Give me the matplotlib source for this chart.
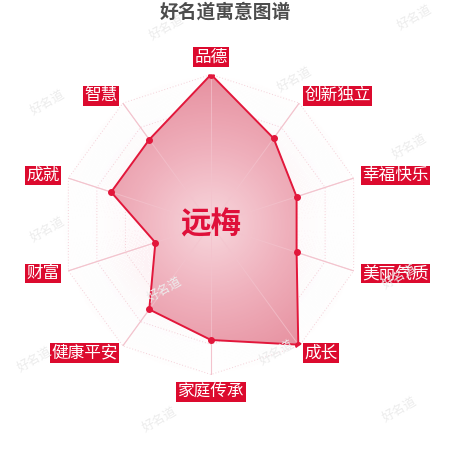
import numpy as np
import matplotlib
matplotlib.use("Agg")
import matplotlib.pyplot as plt
from matplotlib.colors import LinearSegmentedColormap

plt.rcParams['font.family'] = ['Noto Sans CJK SC', 'DejaVu Sans']

# data
title = "好名道寓意图谱"
name = "远梅"
categories = ["品德", "创新独立", "幸福快乐", "美丽气质", "成长",
              "家庭传承", "健康平安", "财富", "成就", "智慧"]
values = [100, 71, 60, 60, 99, 77, 70, 39, 70, 70]
levels = [20, 40, 60, 80, 100]

RED = "#dc0a2e"
LINE = "#e2173b"

n = len(categories)
theta = np.arange(n) * 2 * np.pi / n
theta_c = np.append(theta, theta[0])
vals_c = np.append(values, values[0])

fig = plt.figure(figsize=(4.5, 4.5), dpi=100)
fig.patch.set_facecolor("white")

# faint watermarks
marks = [(167, 28), (415, 18), (48, 103), (295, 80), (410, 147), (48, 230),
         (400, 277), (35, 360), (277, 353), (160, 420), (400, 410), (165, 290)]
for x, y in marks:
    fig.text(x / 450, 1 - y / 450, "好名道", fontsize=9, color="#ececec",
             rotation=30, ha="center", va="center", zorder=0)

cx, cy, R = 211, 224.5, 150
ax = fig.add_axes([(cx - R) / 450, (450 - cy - R) / 450, 2 * R / 450, 2 * R / 450],
                  projection="polar")
ax.set_theta_zero_location("N")
ax.set_theta_direction(-1)
ax.set_ylim(0, 100)
ax.set_xticks([])
ax.set_yticks([])
ax.grid(False)
ax.spines["polar"].set_visible(False)
ax.patch.set_alpha(0)

# faint background glow
tg = np.linspace(0, 2 * np.pi, 361)
rg = np.linspace(0, 100, 101)
T, Rg = np.meshgrid(tg, rg)
bg_cmap = LinearSegmentedColormap.from_list(
    "bg", [(0.96, 0.75, 0.80, 0.08), (0.96, 0.75, 0.80, 0.10), (1, 1, 1, 0.0)])
ax.pcolormesh(T, Rg, Rg, cmap=bg_cmap, shading="auto", zorder=0.5)

# grid rings and spokes
for lv in levels:
    ax.plot(theta_c, [lv] * (n + 1), ls=(0, (1, 2)), color="#f5d0d8", lw=0.7, zorder=1)
for t in theta:
    ax.plot([t, t], [0, 100], color="#f4c6d0", lw=0.8, zorder=1)

# data polygon with radial gradient
poly = ax.fill(theta_c, vals_c, facecolor="none", edgecolor="none", zorder=2)[0]
fill_cmap = LinearSegmentedColormap.from_list("fill", ["#f7d6dc", "#efb0bc", "#e6909f"])
mesh = ax.pcolormesh(T, Rg, Rg, cmap=fill_cmap, shading="auto", zorder=2)
mesh.set_clip_path(poly)
for t in theta:
    ax.plot([t, t], [0, 100], color="#f3c3cd", lw=0.7, alpha=0.7, zorder=2.5)
ax.plot(theta_c, vals_c, color=LINE, lw=1.4, zorder=3)
ax.plot(theta, values, "o", color=LINE, ms=4, zorder=4)

# axis labels
gap = 6.5
for t, lab in zip(theta, categories):
    s, c = np.sin(t), np.cos(t)
    ha = "left" if s > 0.05 else ("right" if s < -0.05 else "center")
    va = "bottom" if c > 0.95 else ("top" if c < -0.95 else "center")
    ax.annotate(lab, xy=(t, 100), xytext=(gap * s, gap * c), textcoords="offset points",
                ha=ha, va=va, fontsize=12, color="white", zorder=5,
                bbox=dict(boxstyle="square,pad=0.08", fc=RED, ec="none"),
                annotation_clip=False)

# centre name
ax.text(0, 0, name, ha="center", va="center", fontsize=22, fontweight="bold",
        color="#df103a", zorder=6)

fig.text(225 / 450, 1 - 12 / 450, title, ha="center", va="center", fontsize=13.5,
         fontweight="bold", color="#4d4d4d")

fig.savefig("out.png", dpi=100, facecolor="white")
